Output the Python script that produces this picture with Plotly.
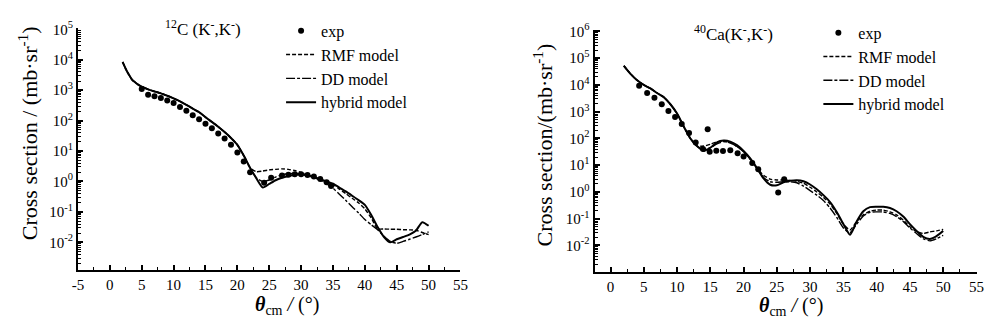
import plotly.graph_objects as go

# ---------------- data ----------------
# 12C(K-,K-) panel
c_model_x = [2, 2.5, 3, 3.5, 4, 4.5, 5, 6, 7, 8, 9, 10, 11, 12, 13, 14, 15, 16, 17, 18, 19, 20, 21, 22,
             23, 24, 25, 26, 27, 28, 29, 30, 31, 32, 33, 34, 35, 36, 37, 38, 39, 40, 41, 42, 43, 44, 45,
             46, 47, 48, 49, 50]
c_common = [8.5e3, 5.0e3, 3.2e3, 2.2e3, 1.8e3, 1.5e3, 1.3e3, 1.07e3, 910, 790, 660, 540, 430, 330, 250,
            190, 130, 91, 63, 42, 27, 16, 7.1, 2.8]
c_rmf_tail = [2.1, 2.2, 2.4, 2.5, 2.6, 2.5, 2.3, 2.0, 1.7, 1.4, 1.1, 1.0, 0.79, 0.56, 0.40, 0.28, 0.20,
              0.126, 0.063, 0.028, 0.0275, 0.027, 0.027, 0.026, 0.0257, 0.025, 0.021, 0.018]
c_dd_tail = [1.3, 1.0, 1.12, 1.4, 1.66, 1.8, 1.86, 1.8, 1.66, 1.4, 1.12, 0.83, 0.6, 0.38, 0.24, 0.148,
             0.093, 0.056, 0.038, 0.026, 0.0158, 0.0107, 0.0093, 0.0107, 0.0126, 0.015, 0.018, 0.022]
c_hyb_tail = [1.26, 0.63, 0.83, 1.1, 1.32, 1.5, 1.66, 1.7, 1.58, 1.4, 1.2, 1.0, 0.85, 0.63, 0.47, 0.34,
              0.245, 0.17, 0.079, 0.032, 0.015, 0.010, 0.0126, 0.015, 0.018, 0.024, 0.046, 0.035]
c_exp_x = [5, 6, 7, 8, 9, 10, 11, 12, 13, 14, 15, 16, 17, 18, 19, 20, 21, 22, 24.2, 25.3, 27, 28, 29, 30,
           31, 32, 33, 34, 34.7]
c_exp_y = [1.1e3, 710, 630, 560, 460, 380, 280, 210, 150, 112, 79, 56, 38, 26, 16, 8.9, 4.5, 2.0, 0.91,
           1.32, 1.58, 1.66, 1.74, 1.74, 1.62, 1.45, 1.2, 0.95, 0.71]

# 40Ca(K-,K-) panel
ca_model_x = [2, 3, 4, 5, 6, 7, 8, 9, 10, 11, 12, 13, 14, 15, 16, 17, 18, 19, 20, 21, 22, 23, 24, 25, 26,
              27, 28, 29, 30, 31, 32, 33, 34, 35, 36, 37, 38, 39, 40, 41, 42, 43, 44, 45, 46, 47, 48, 49, 50]
ca_common = [5.2e4, 2.6e4, 1.5e4, 1.0e4, 7.4e3, 5.0e3, 3.5e3, 1.9e3, 850, 280, 100]
ca_rmf_tail = [52, 52, 60, 76, 79, 69, 50, 32, 16.6, 7.9, 4.2, 3.0, 2.8, 2.8, 2.7, 2.5, 2.1, 1.5, 1.0,
               0.63, 0.35, 0.158, 0.063, 0.038, 0.079, 0.14, 0.19, 0.21, 0.21, 0.18, 0.14, 0.089, 0.05,
               0.033, 0.028, 0.032, 0.035, 0.04]
ca_dd_tail = [50, 40, 45, 63, 76, 68, 50, 32, 16.6, 7.6, 3.5, 2.4, 2.3, 2.4, 2.4, 2.2, 1.66, 1.12, 0.76,
              0.48, 0.25, 0.112, 0.045, 0.030, 0.063, 0.126, 0.174, 0.18, 0.178, 0.158, 0.12, 0.079,
              0.045, 0.028, 0.0178, 0.0148, 0.0178, 0.024]
ca_hyb_tail = [52, 34, 45, 71, 83, 76, 56, 34, 18, 7.9, 3.2, 1.86, 1.78, 2.3, 2.6, 2.75, 2.5, 1.9, 1.26,
               0.76, 0.42, 0.178, 0.063, 0.025, 0.079, 0.19, 0.27, 0.28, 0.28, 0.25, 0.19, 0.12, 0.063,
               0.035, 0.021, 0.0174, 0.0224, 0.035]
ca_exp_x = [4.3, 5.5, 6.6, 7.7, 8.7, 9.7, 10.7, 11.8, 12.8, 13.9, 14.6, 14.9, 15.9, 16.9, 18.0, 19.1,
            20.0, 21.3, 22.2, 25.2, 26.1]
ca_exp_y = [9.3e3, 5.0e3, 3.3e3, 1.9e3, 1.07e3, 630, 350, 160, 71, 40, 220, 32, 35, 34, 36, 28, 21, 12,
            7.1, 0.95, 3.0]

c_xticks = [-5, 0, 5, 10, 15, 20, 25, 30, 35, 40, 45, 50, 55]
c_xtext = ["-5", "0", "5", "10", "15", "20", "25", "30", "35", "40", "45", "50", "55"]
ca_xticks = [0, 5, 10, 15, 20, 25, 30, 35, 40, 45, 50, 55]
ca_xtext = ["0", "5", "10", "15", "20", "25", "30", "35", "40", "45", "50", "55"]
x_minor = [-2.5, 2.5, 7.5, 12.5, 17.5, 22.5, 27.5, 32.5, 37.5, 42.5, 47.5, 52.5]
c_yticks = [1e-2, 1e-1, 1e0, 1e1, 1e2, 1e3, 1e4, 1e5]
c_ytext = ["10<sup>-2</sup>", "10<sup>-1</sup>", "10<sup>0</sup>", "10<sup>1</sup>", "10<sup>2</sup>",
           "10<sup>3</sup>", "10<sup>4</sup>", "10<sup>5</sup>"]
ca_yticks = c_yticks + [1e6]
ca_ytext = c_ytext + ["10<sup>6</sup>"]
y_minor = [m * 10.0 ** k for k in range(-3, 7) for m in range(2, 10)]

legend_names = ["exp", "RMF model", "DD model", "hybrid model"]

# ---------------- figure ----------------
W, H = 992, 331
SERIF = "Liberation Serif, Times New Roman, serif"
fig = go.Figure()

def px_x(p):
    return p / W

def px_y(p):
    return 1 - p / H

panels = [
    dict(xa="x", ya="y", leg="legend", mx=c_model_x, common=c_common,
         tails=[c_rmf_tail, c_dd_tail, c_hyb_tail], ex=c_exp_x, ey=c_exp_y),
    dict(xa="x2", ya="y2", leg="legend2", mx=ca_model_x, common=ca_common,
         tails=[ca_rmf_tail, ca_dd_tail, ca_hyb_tail], ex=ca_exp_x, ey=ca_exp_y),
]
dashes = ["4px,2px", "9px,2px,3px,2px", "solid"]
widths = [1.4, 1.4, 2.0]

for p in panels:
    fig.add_trace(go.Scatter(x=p["ex"], y=p["ey"], mode="markers", name=legend_names[0],
                             marker=dict(color="black", size=6), xaxis=p["xa"], yaxis=p["ya"],
                             legend=p["leg"]))
    for i, tail in enumerate(p["tails"]):
        fig.add_trace(go.Scatter(x=p["mx"], y=p["common"] + tail, mode="lines",
                                 name=legend_names[i + 1],
                                 line=dict(color="black", width=widths[i], dash=dashes[i],
                                           shape="spline", smoothing=0.6),
                                 xaxis=p["xa"], yaxis=p["ya"], legend=p["leg"]))

axis_common = dict(showline=True, linecolor="black", linewidth=2, ticks="inside", tickcolor="black",
                   ticklen=5, tickwidth=1.5, showgrid=False, zeroline=False,
                   tickfont=dict(family=SERIF, size=15, color="black"))
minor_log = dict(tickmode="array", tickvals=y_minor, ticks="inside", ticklen=3, tickcolor="black",
                 tickwidth=1, showgrid=False)
minor_lin = dict(tickmode="array", tickvals=x_minor, ticks="inside", ticklen=3, tickcolor="black",
                 tickwidth=1, showgrid=False)

fig.update_layout(
    width=W, height=H, margin=dict(l=0, r=0, t=0, b=0),
    paper_bgcolor="white", plot_bgcolor="white",
    font=dict(family=SERIF, color="black"),
    xaxis=dict(domain=[px_x(73), px_x(461)], range=[-5, 55], tickvals=c_xticks, ticktext=c_xtext,
               anchor="y", minor=minor_lin, **axis_common),
    yaxis=dict(domain=[px_y(268), px_y(20)], type="log", range=[-2.9, 5.03], tickvals=c_yticks,
               ticktext=c_ytext, anchor="x", minor=minor_log, **axis_common),
    xaxis2=dict(domain=[px_x(597), px_x(985)], range=[-2.4, 55.1], tickvals=ca_xticks, ticktext=ca_xtext,
                anchor="y2", minor=minor_lin, **axis_common),
    yaxis2=dict(domain=[px_y(270), px_y(22)], type="log", range=[-2.98, 6.04], tickvals=ca_yticks,
                ticktext=ca_ytext, anchor="x2", minor=minor_log, **axis_common),
    legend=dict(x=px_x(279), y=px_y(5), xanchor="left", yanchor="top", bgcolor="rgba(0,0,0,0)",
                font=dict(family=SERIF, size=16), tracegroupgap=0, itemwidth=30),
    legend2=dict(x=px_x(824), y=px_y(7), xanchor="left", yanchor="top", bgcolor="rgba(0,0,0,0)",
                 font=dict(family=SERIF, size=16), tracegroupgap=0, itemwidth=30),
    showlegend=True,
)

annots = [
    dict(x=px_x(200), y=px_y(20), text="<sup>12</sup>C (K<sup>-</sup>,K<sup>-</sup>)", size=17, angle=0),
    dict(x=px_x(738), y=px_y(25), text="<sup>40</sup>Ca(K<sup>-</sup>,K<sup>-</sup>)", size=17, angle=0),
    dict(x=px_x(22), y=px_y(128), text="Cross section / (mb·sr<sup>-1</sup>)", size=22, angle=-90),
    dict(x=px_x(545), y=px_y(140), text="Cross section/(mb·sr<sup>-1</sup>)", size=22, angle=-90),
    dict(x=px_x(285), y=px_y(305), text="<b><i>θ</i></b><sub>cm</sub> <i>/</i> (°)", size=20, angle=0),
    dict(x=px_x(796), y=px_y(306), text="<b><i>θ</i></b><sub>cm</sub> <i>/</i> (°)", size=20, angle=0),
]
for a in annots:
    fig.add_annotation(x=a["x"], y=a["y"], xref="paper", yref="paper", text=a["text"], showarrow=False,
                       textangle=a["angle"], font=dict(family=SERIF, size=a["size"], color="black"),
                       xanchor="center", yanchor="middle")

fig.write_html("out.html")
